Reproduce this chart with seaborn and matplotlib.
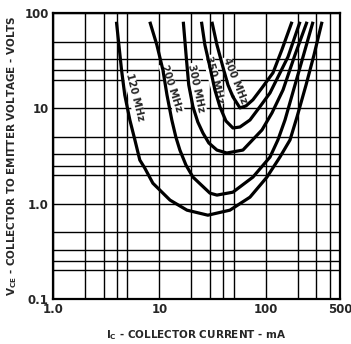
import matplotlib
matplotlib.use("Agg")
import matplotlib.pyplot as plt
from matplotlib.ticker import FixedLocator, FixedFormatter, NullFormatter
import pandas as pd
import seaborn as sns

# Constant-fT contours: collector current (mA) vs collector-emitter voltage (V)
ic_120 = [3.95, 4.41, 4.73, 5.28, 5.89, 6.55, 7.30, 8.69, 12.6, 18.2, 28.6, 46.1, 71.2, 102.8, 136.1, 169.4, 197.1, 239.7, 284.9, 338.9]
vce_120 = [81, 25.3, 13.8, 7.55, 4.66, 2.87, 2.36, 1.64, 1.09, 0.855, 0.757, 0.855, 1.17, 1.90, 3.08, 4.66, 8.13, 17.6, 36.4, 81]

ic_200 = [8.14, 9.47, 10.8, 11.8, 13.1, 14.3, 15.6, 17.8, 20.7, 29.9, 34.8, 49.2, 75.9, 109.8, 130.3, 152.0, 188.7, 224.6, 278.8]
vce_200 = [81, 46.4, 25.3, 13.8, 7.55, 5.00, 3.65, 2.54, 1.90, 1.29, 1.23, 1.32, 1.90, 3.08, 4.66, 7.55, 17.6, 34.7, 81]

ic_300 = [16.8, 18.0, 18.9, 20.7, 23.0, 25.7, 29.2, 34.8, 43.1, 61.1, 92.3, 114.6, 145.6, 188.7, 244.9]
vce_300 = [81, 32.3, 17.6, 10.4, 7.19, 5.51, 4.33, 3.65, 3.40, 3.65, 5.93, 8.95, 15.6, 36.4, 81]

ic_350 = [24.9, 26.8, 29.9, 33.3, 37.1, 42.3, 49.2, 57.3, 71.2, 88.3, 109.8, 162.2, 210.4]
vce_350 = [81, 46.4, 27.2, 15.6, 10.4, 7.37, 6.22, 6.37, 7.55, 10.4, 14.5, 34.7, 81]

ic_400 = [31.2, 34.8, 39.6, 44.2, 49.2, 57.3, 65.3, 75.9, 92.3, 117.2, 142.0, 176.8]
vce_400 = [81, 46.4, 27.2, 17.6, 13.2, 10.1, 10.6, 12.3, 16.4, 23.6, 41.1, 81]

curve_names = ["120 MHz", "200 MHz", "300 MHz", "350 MHz", "400 MHz"]
curve_ic = [ic_120, ic_200, ic_300, ic_350, ic_400]
curve_vce = [vce_120, vce_200, vce_300, vce_350, vce_400]

# Label anchor points (mA, V) and text angles
label_ic = [5.85, 13.0, 22.3, 33.0, 51.0]
label_vce = [13.0, 16.4, 16.4, 19.9, 19.5]
label_rot = [-76, -72, -78, -75, -68]

x_major = [1, 10, 100, 500]
x_major_labels = ["1.0", "10", "100", "500"]
x_minor = [2, 3, 4, 5, 20, 30, 40, 50, 200, 300, 400]
y_major = [0.1, 1, 10, 100]
y_major_labels = ["0.1", "1.0", "10", "100"]
y_minor = [0.2, 0.25, 0.33, 0.5, 2, 2.5, 3.3, 5, 20, 25, 33, 50]

rows = []
for name, xs, ys in zip(curve_names, curve_ic, curve_vce):
    for i, (x, y) in enumerate(zip(xs, ys)):
        rows.append({"curve": name, "order": i, "ic": x, "vce": y})
df = pd.DataFrame(rows)

sns.set_style("white")
plt.rcParams["font.family"] = ["DejaVu Sans"]

fig = plt.figure(figsize=(3.51, 3.44), dpi=100)
ax = fig.add_axes([53 / 351, 45 / 344, 287 / 351, 286 / 344])

ax.set_xscale("log")
ax.set_yscale("log")
ax.set_xlim(1, 500)
ax.set_ylim(0.1, 100)

sns.lineplot(data=df, x="ic", y="vce", hue="curve", units="curve",
             estimator=None, sort=False, palette=["black"] * 5,
             linewidth=2.3, legend=False, ax=ax, zorder=5)
for line in ax.get_lines():
    line.set_solid_joinstyle("round")
    line.set_solid_capstyle("butt")

ax.xaxis.set_major_locator(FixedLocator(x_major))
ax.xaxis.set_major_formatter(FixedFormatter(x_major_labels))
ax.xaxis.set_minor_locator(FixedLocator(x_minor))
ax.xaxis.set_minor_formatter(NullFormatter())
ax.yaxis.set_major_locator(FixedLocator(y_major))
ax.yaxis.set_major_formatter(FixedFormatter(y_major_labels))
ax.yaxis.set_minor_locator(FixedLocator(y_minor))
ax.yaxis.set_minor_formatter(NullFormatter())

ax.grid(True, which="both", color="black", linewidth=1.0, zorder=1)
ax.set_axisbelow(True)
ax.tick_params(which="both", length=0, labelsize=8.5, pad=3)
for lab in ax.get_xticklabels() + ax.get_yticklabels():
    lab.set_fontweight("bold")
for sp in ax.spines.values():
    sp.set_color("black")
    sp.set_linewidth(1.6)

for name, x, y, r in zip(curve_names, label_ic, label_vce, label_rot):
    ax.text(x, y, name, rotation=r, rotation_mode="anchor", ha="center", va="center",
            fontsize=7.3, fontweight="bold", zorder=3,
            bbox=dict(facecolor="white", edgecolor="none", pad=0.6))

ax.set_xlabel(r"I$_\mathregular{C}$ - COLLECTOR CURRENT - mA", fontsize=7.5,
              fontweight="bold", labelpad=9)
ax.set_ylabel(r"V$_\mathregular{CE}$ - COLLECTOR TO EMITTER VOLTAGE - VOLTS",
              fontsize=7.5, fontweight="bold", labelpad=4)

fig.savefig("out.png", dpi=100, facecolor="white")
